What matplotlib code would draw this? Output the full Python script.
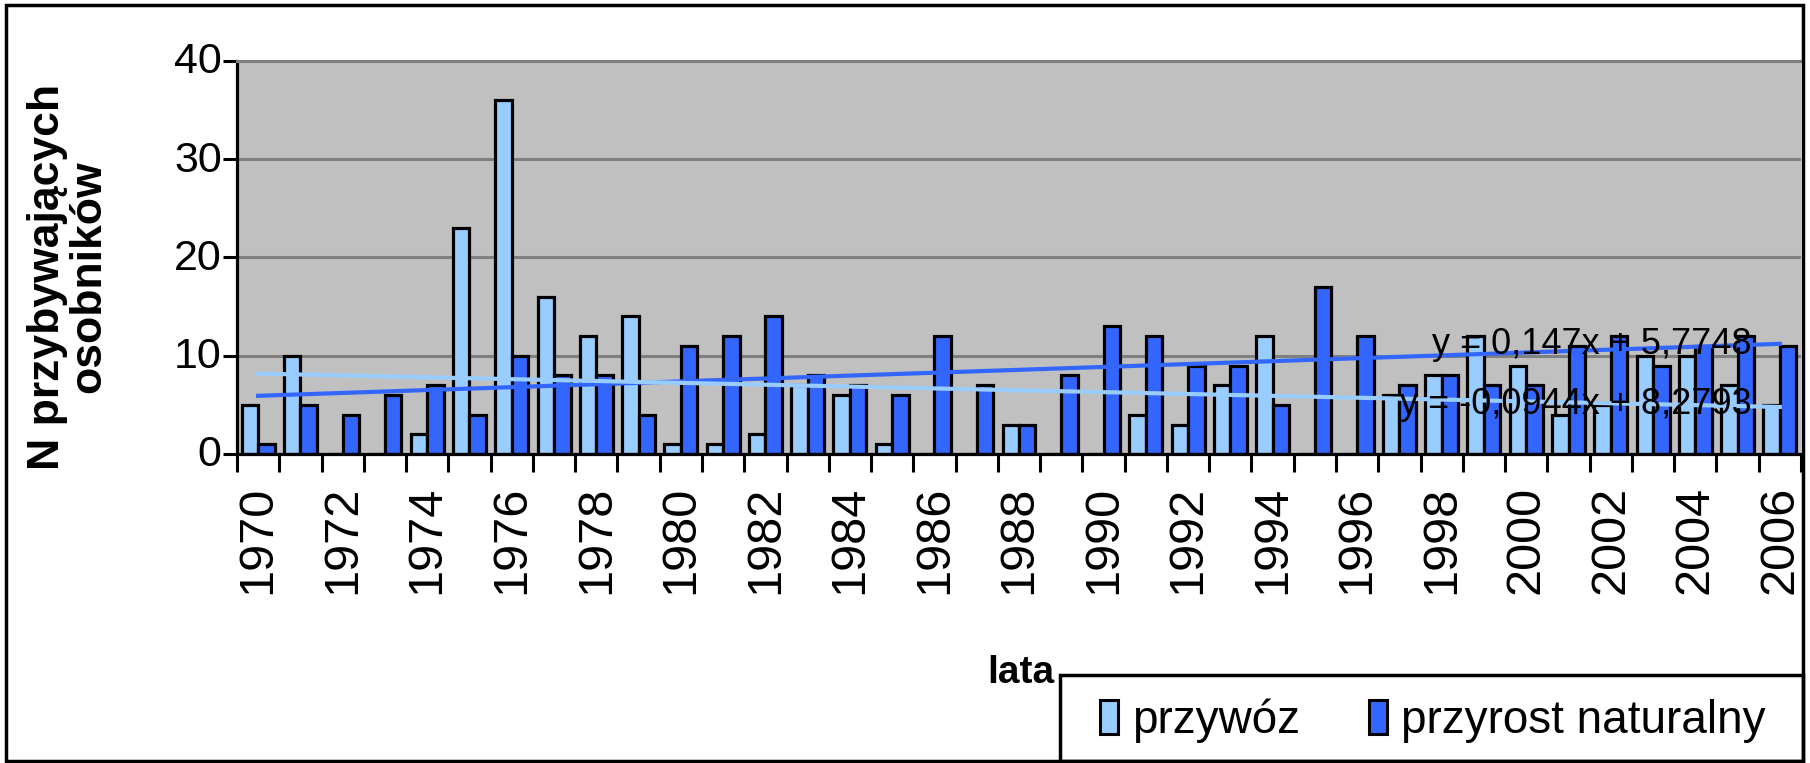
import numpy as np
import matplotlib.pyplot as plt
from matplotlib import font_manager as fm
from matplotlib.patches import Patch, Rectangle
from matplotlib.transforms import ScaledTranslation

# ---------- dane ----------
lata = list(range(1970, 2007))
przywoz = [5, 10, 0, 0, 2, 23, 36, 16, 12, 14, 1, 1, 2, 7, 6, 1, 0, 0, 3, 0,
           0, 4, 3, 7, 12, 0, 0, 6, 8, 12, 9, 4, 5, 10, 10, 7, 5]
przyrost = [1, 5, 4, 6, 7, 4, 10, 8, 8, 4, 11, 12, 14, 8, 7, 6, 12, 7, 3, 8,
            13, 12, 9, 9, 5, 17, 12, 7, 8, 7, 7, 11, 12, 9, 11, 12, 11]
# linie trendu (z etykiet na wykresie)
trend_przywoz = (-0.0944, 8.2793)
trend_przyrost = (0.147, 5.7748)
etykieta_przywoz = "y = -0,0944x + 8,2793"
etykieta_przyrost = "y = 0,147x + 5,7748"

JASNY = "#99CCFF"
CIEMNY = "#3366FF"
FONT = "Liberation Sans"

W, H = 1810, 763
fig = plt.figure(figsize=(W / 100, H / 100), dpi=100)
ax = fig.add_axes([237 / W, 1 - 454 / H, (1801 - 237) / W, (454 - 61) / H])

x = np.arange(len(lata))
bw = 0.39
ax.bar(x - bw / 2, przywoz, bw, color=JASNY, edgecolor="black", linewidth=2.3, zorder=2)
ax.bar(x + bw / 2, przyrost, bw, color=CIEMNY, edgecolor="black", linewidth=2.3, zorder=2)

# trendy liniowe (x = 1..37 jak w Excelu)
xt = x + 1
ax.plot(x, trend_przyrost[0] * xt + trend_przyrost[1], color=CIEMNY, lw=3, zorder=3)
ax.plot(x, trend_przywoz[0] * xt + trend_przywoz[1], color=JASNY, lw=3, zorder=3)

ax.text(35.34, 11.1, etykieta_przyrost, ha="right", va="center",
        family=FONT, fontsize=26, zorder=4)
ax.text(35.34, 5.0, etykieta_przywoz, ha="right", va="center",
        family=FONT, fontsize=26, zorder=4)

ax.set_xlim(-0.5, len(lata) - 0.5)
ax.set_ylim(0, 40)
ax.set_facecolor("#C0C0C0")
ax.set_axisbelow(True)
ax.yaxis.grid(True, color="#808080", lw=2.2)

for s in ["left", "bottom"]:
    ax.spines[s].set_linewidth(2.3)
ax.spines["right"].set_visible(False)
ax.spines["top"].set_color("#808080")
ax.spines["top"].set_linewidth(2.2)

ax.set_yticks([0, 10, 20, 30, 40])
ax.tick_params(axis="y", direction="out", length=10, width=2.2, pad=1)
for lab in ax.get_yticklabels():
    lab.set_family(FONT)
    lab.set_fontsize(31)
    lab.set_transform(lab.get_transform() + ScaledTranslation(0, 0.03, fig.dpi_scale_trans))

ax.set_xticks(x[::2])
ax.set_xticklabels([str(r) for r in lata[::2]], rotation=90, family=FONT, fontsize=35)
ax.set_xticks(np.arange(-0.5, len(lata), 1), minor=True)
ax.tick_params(axis="x", which="major", length=0, pad=23)
ax.tick_params(axis="x", which="minor", direction="out", length=13, width=2.2)

fig.text(68 / W, 1 - 277 / H, "N przybywających\nosobników", rotation=90,
         ha="center", va="center", multialignment="center",
         family=FONT, weight="bold", fontsize=32, linespacing=1.0)
fig.text(1021 / W, 1 - 673 / H, "lata", ha="center", va="center",
         family=FONT, weight="bold", fontsize=28)

# ramka wykresu i legendy
fig.patches.append(Rectangle((6 / W, 2 / H), (1803 - 6) / W, (758 - 2) / H,
                             transform=fig.transFigure, fill=False,
                             edgecolor="black", lw=2.5))
fig.patches.append(Rectangle((1060 / W, 2 / H), (1803 - 1060) / W, (761 - 675) / H,
                             transform=fig.transFigure, fill=False,
                             edgecolor="black", lw=2.5))

uchwyty = [Patch(facecolor=JASNY, edgecolor="black", lw=2.2),
           Patch(facecolor=CIEMNY, edgecolor="black", lw=2.2)]
fig.legend(uchwyty, ["przywóz", "przyrost naturalny"], loc="center left",
           bbox_to_anchor=(1100 / W, 1 - 721 / H), ncol=2, frameon=False,
           prop=fm.FontProperties(family=FONT, size=33),
           handlelength=0.4, handleheight=0.75, handletextpad=0.3,
           columnspacing=1.5, borderpad=0, borderaxespad=0)

fig.savefig("out.png", dpi=100)
